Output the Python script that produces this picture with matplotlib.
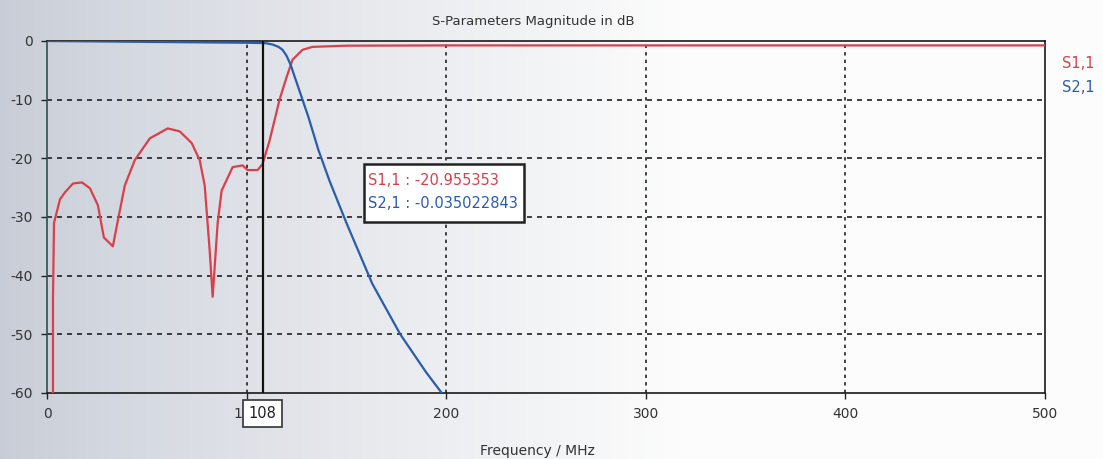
import numpy as np
import matplotlib
matplotlib.use("Agg")
import matplotlib.pyplot as plt

# ---- data ----
s11_freq = [3, 3, 3.5, 6.5, 9, 13, 17.5, 21.5, 25.5, 28.5, 33, 35.5, 39, 44, 51.5, 60.5,
            66.5, 72.5, 76.5, 79, 81.5, 83, 85.5, 87.5, 93, 98, 100.5, 105.5, 108,
            111.5, 116.5, 120, 123, 128, 133, 150, 200, 300, 400, 500]
s11_db = [-60, -44, -31, -27, -25.8, -24.3, -24.1, -25.1, -28, -33.5, -35, -30.6, -24.6,
          -20.3, -16.6, -14.9, -15.4, -17.4, -20.3, -24.6, -35.7, -43.6, -31, -25.5, -21.5,
          -21.2, -22, -22, -20.96, -17, -10, -6.2, -3.2, -1.5, -1.0, -0.8, -0.75, -0.75,
          -0.75, -0.75]

s21_freq = [0, 50, 100, 108, 110, 113, 116, 118, 120, 122, 125, 128, 131, 136, 141.5,
            150, 163, 177, 190, 200]
s21_db = [0, -0.15, -0.3, -0.35, -0.4, -0.6, -1.0, -1.5, -2.5, -4, -7, -10, -13, -18.6,
          -23.8, -31, -41.4, -50, -56.5, -61]

x_ticks = [0, 100, 200, 300, 400, 500]
y_ticks = [0, -10, -20, -30, -40, -50, -60]
marker_freq = 108
marker_s11 = "-20.955353"
marker_s21 = "-0.035022843"

RED = "#d8404a"
BLUE = "#2a5cae"

fig = plt.figure(figsize=(11.03, 4.59), dpi=100)

# scanned-paper background gradient
bg = fig.add_axes([0, 0, 1, 1], zorder=-10)
grad = np.linspace(0, 1, 256)
col = np.ones((2, 256, 3))
left = np.array([0.78, 0.80, 0.84])
right = np.array([0.99, 0.99, 0.99])
t = np.clip(grad * 1.6, 0, 1) ** 0.8
for i in range(3):
    col[:, :, i] = left[i] + (right[i] - left[i]) * t
bg.imshow(col, aspect="auto", extent=[0, 1, 0, 1])
bg.axis("off")

ax = fig.add_axes([47 / 1103, 1 - 393 / 459, (1045 - 47) / 1103, (393 - 41) / 459])
ax.patch.set_alpha(0)

ax.plot(s11_freq, s11_db, color=RED, lw=1.6, zorder=3, clip_on=True)
ax.plot(s21_freq, s21_db, color=BLUE, lw=1.6, zorder=3, clip_on=True)

ax.set_xlim(0, 500)
ax.set_ylim(-60, 0)
ax.set_xticks(x_ticks)
ax.set_yticks(y_ticks)
ax.set_xticklabels([str(v) for v in x_ticks], fontsize=10, color="#333333")
ax.set_yticklabels([str(v) for v in y_ticks], fontsize=10, color="#333333")
ax.tick_params(axis="both", length=4, width=1, color="#222222", pad=6)

for y in y_ticks[1:-1]:
    ax.axhline(y, color="#222222", lw=1.2, ls=(0, (3, 3)), zorder=1)
for x in x_ticks[1:-1]:
    ax.axvline(x, color="#222222", lw=1.2, ls=(0, (2, 2.5)), zorder=1)

for s in ax.spines.values():
    s.set_color("#1a1a1a")
    s.set_linewidth(1.2)
ax.spines["left"].set_color("#2f4f4f")

# marker line
ax.axvline(marker_freq, color="#111111", lw=1.6, zorder=4)
ax.text(marker_freq, -63.5, str(marker_freq), ha="center", va="center", fontsize=10.5,
        color="#222222", clip_on=False, zorder=6,
        bbox=dict(boxstyle="square,pad=0.4", fc="white", ec="#333333", lw=1.2))

# marker readout box
ax.add_patch(plt.Rectangle((159, -30.9), 80, 10.0, fc="white", ec="#222222", lw=1.8,
                           zorder=6))
ax.text(161, -23.7, f"S1,1 : {marker_s11}", color=RED, fontsize=10.5, va="center",
        zorder=7)
ax.text(161, -27.7, f"S2,1 : {marker_s21}", color=BLUE, fontsize=10.5, va="center",
        zorder=7)

# legend to right
fig.text(1062 / 1103, 1 - 64 / 459, "S1,1", color=RED, fontsize=10.5, va="center")
fig.text(1062 / 1103, 1 - 87 / 459, "S2,1", color=BLUE, fontsize=10.5, va="center")

fig.text(533 / 1103, 1 - 22 / 459, "S-Parameters Magnitude in dB", ha="center",
         va="center", fontsize=9.5, color="#333333")
fig.text(537 / 1103, 1 - 451 / 459, "Frequency / MHz", ha="center", va="center",
         fontsize=10, color="#333333")

fig.savefig("out.png", dpi=100)
